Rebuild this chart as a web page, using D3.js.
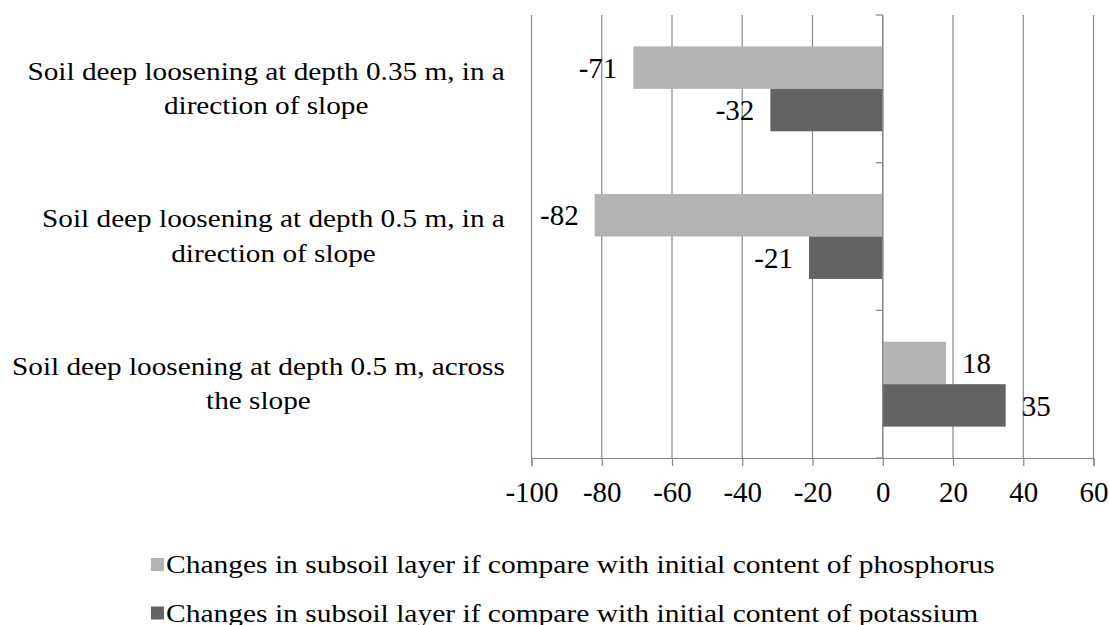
<!DOCTYPE html>
<html>
<head>
<meta charset="utf-8">
<script src="https://cdn.jsdelivr.net/npm/d3@7"></script>
<style>
  html, body { margin: 0; padding: 0; background: #fff; }
  svg { display: block; }
</style>
</head>
<body>
<svg id="chart" width="1109" height="625"></svg>
<script>
// ---- data ----
const categories = [
  ["Soil deep loosening at depth 0.35 m, in a", "direction of slope"],
  ["Soil deep loosening at depth 0.5 m, in a", "direction of slope"],
  ["Soil deep loosening at depth 0.5 m, across", "the slope"]
];
const seriesNames = [
  "Changes in subsoil layer if compare with initial content of phosphorus",
  "Changes in subsoil layer if compare with initial content of potassium"
];
const phosphorus = [-71, -82, 18];
const potassium = [-32, -21, 35];
const xTicks = [-100, -80, -60, -40, -20, 0, 20, 40, 60];

// ---- layout ----
const FONT = "Times New Roman";
const colors = ["#b3b3b3", "#636363"];
const gridColor = "#888888";
const plot = { left: 531.5, right: 1093.5, top: 15, bottom: 458 };
const svg = d3.select("#chart");

const x = d3.scaleLinear().domain([-100, 60]).range([plot.left, plot.right]);
const catIdx = categories.map((d, i) => i);
const y = d3.scaleBand().domain(catIdx).range([plot.top, plot.bottom])
  .paddingInner(0.425).paddingOuter(0.2125);
const yFull = d3.scaleBand().domain(catIdx).range([plot.top, plot.bottom]).padding(0);
const ySub = d3.scaleBand().domain([0, 1]).range([0, y.bandwidth()]).padding(0);
const series = [phosphorus, potassium];

// vertical gridlines
svg.append("g").selectAll("line").data(xTicks).join("line")
  .attr("x1", d => x(d)).attr("x2", d => x(d))
  .attr("y1", plot.top).attr("y2", plot.bottom)
  .attr("stroke", gridColor).attr("stroke-width", 1.2);

// bottom axis
const xAxis = svg.append("g").attr("transform", `translate(0,${plot.bottom})`)
  .call(d3.axisBottom(x).tickValues(xTicks).tickSize(8).tickPadding(15).tickFormat(d3.format("d")));
xAxis.attr("font-family", null);
xAxis.select(".domain").attr("stroke", gridColor).attr("stroke-width", 1.2);
xAxis.selectAll(".tick line").attr("stroke", gridColor).attr("stroke-width", 1.2);
xAxis.selectAll(".tick text")
  .style("font-family", FONT)
  .attr("font-size", 29).attr("fill", "#000")
  .text(d => d < 0 ? "-" + Math.abs(d) : String(d));

// bars
series.forEach((vals, s) => {
  svg.append("g").selectAll("rect").data(vals).join("rect")
    .attr("x", d => x(Math.min(0, d)))
    .attr("width", d => Math.abs(x(d) - x(0)))
    .attr("y", (d, i) => y(i) + ySub(s))
    .attr("height", ySub.bandwidth())
    .attr("fill", colors[s]);
});

// zero axis with category tick marks
svg.append("line")
  .attr("x1", x(0)).attr("x2", x(0))
  .attr("y1", plot.top).attr("y2", plot.bottom)
  .attr("stroke", gridColor).attr("stroke-width", 1.2);
const bounds = catIdx.map(i => yFull(i)).concat([plot.bottom]);
svg.append("g").selectAll("line").data(bounds).join("line")
  .attr("x1", x(0) - 7).attr("x2", x(0))
  .attr("y1", d => d).attr("y2", d => d)
  .attr("stroke", gridColor).attr("stroke-width", 1.2);

// data labels
series.forEach((vals, s) => {
  svg.append("g").selectAll("text").data(vals).join("text")
    .attr("x", d => d < 0 ? x(d) - 16 : x(d) + 16)
    .attr("y", (d, i) => y(i) + ySub(s) + ySub.bandwidth() / 2)
    .attr("dy", "0.35em")
    .attr("text-anchor", d => d < 0 ? "end" : "start")
    .style("font-family", FONT)
    .attr("font-size", 29).attr("fill", "#000")
    .text(d => d < 0 ? "-" + Math.abs(d) : String(d));
});

// category labels: two lines centred within a block right-aligned at x = 505
const catSX = 1.17;
const catRight = 505;
categories.forEach((lines, i) => {
  const cy = yFull(i) + yFull.bandwidth() / 2;
  const g = svg.append("g");
  const texts = lines.map(ln => g.append("text")
    .style("font-family", FONT)
    .attr("font-size", 25).attr("fill", "#000")
    .attr("text-anchor", "middle").text(ln));
  const maxW = d3.max(texts, t => t.node().getComputedTextLength()) * catSX;
  const cx = catRight - maxW / 2;
  texts.forEach((t, j) => {
    t.attr("transform", `translate(${cx},${cy - 9.3 + j * 34.3}) scale(${catSX},1)`);
  });
});

// legend
const legSX = 1.18;
seriesNames.forEach((name, s) => {
  const ly = 558 + s * 48.5;
  svg.append("rect").attr("x", 151).attr("y", ly).attr("width", 13).attr("height", 13)
    .attr("fill", colors[s]);
  svg.append("text")
    .attr("transform", `translate(166,${ly + 15}) scale(${legSX},1)`)
    .style("font-family", FONT)
    .attr("font-size", 25).attr("fill", "#000").text(name);
});
</script>
</body>
</html>
